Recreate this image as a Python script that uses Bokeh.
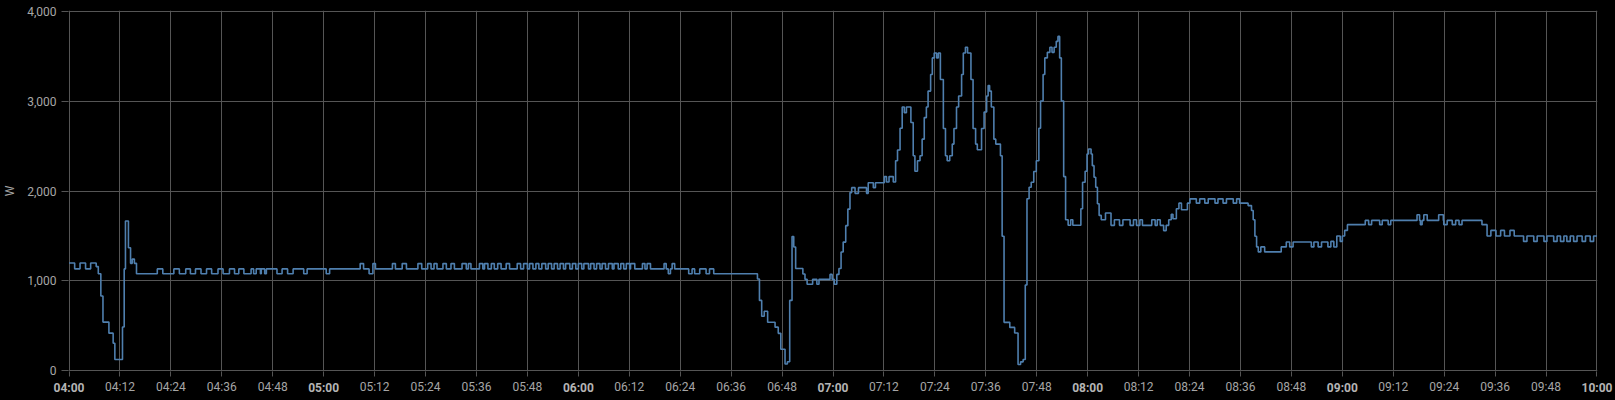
from bokeh.plotting import figure
from bokeh.models import Range1d, FixedTicker, NumeralTickFormatter, LinearAxis
from bokeh.embed import file_html
from bokeh.resources import INLINE

# change points: minutes after 04:00 and power (W) from that moment on
t_04 = [0, 1.33, 2.6, 3.9, 5.1, 6.4, 6.9, 7.5, 8.0, 9.4, 10.4, 10.8, 12.6, 13.0, 13.3, 14.0, 14.5, 14.9, 15.4, 15.9,
        20.8, 22.1, 24.7, 26.0, 27.5, 28.6, 29.8, 31.1, 32.4, 33.6, 35.1, 36.3, 37.8, 39.0, 40.0, 41.2,
        42.9, 43.5, 44.1, 45.1, 45.3, 46.1, 46.5, 49.0, 50.2, 51.5, 52.8, 55.3, 56.1]
w_04 = [1200, 1135, 1200, 1135, 1200, 1160, 1080, 833, 543, 420, 308, 127, 489, 1134, 1667, 1370, 1196, 1243, 1196, 1080,
        1134, 1080, 1134, 1080, 1134, 1080, 1134, 1080, 1134, 1080, 1134, 1080, 1134, 1080, 1134, 1080,
        1134, 1080, 1134, 1080, 1134, 1080, 1134, 1080, 1134, 1080, 1134, 1080, 1134]

t_05 = [60.6, 61.4, 68.6, 69.4, 70.7, 71.6, 72.2, 76.2, 76.9, 78.5, 79.5, 82.2, 83.1, 84.5, 85.3, 86.0, 86.7,
        88.1, 88.9, 90.0, 90.8, 92.6, 93.6, 94.1, 94.7, 96.7, 97.5, 97.9, 98.7, 99.5, 100.2, 101.0, 101.8,
        103.0, 103.8, 105.6, 106.4, 107.1, 108.0, 108.5, 109.3, 110.0, 110.7, 111.4, 112.3, 112.9, 113.7,
        114.3, 115.1, 115.7, 116.5, 117.0, 118.0, 118.6, 119.4]
w_05 = [1080, 1134, 1193, 1134, 1080, 1193, 1134, 1193, 1134, 1193, 1134, 1193, 1134, 1193, 1134, 1193, 1134,
        1193, 1134, 1193, 1134, 1193, 1134, 1193, 1134, 1193, 1134, 1193, 1134, 1193, 1134, 1193, 1134,
        1193, 1134, 1193, 1134, 1193, 1134, 1193, 1134, 1193, 1134, 1193, 1134, 1193, 1134,
        1193, 1134, 1193, 1134, 1193, 1134, 1193, 1134]

t_06 = [120.0, 120.8, 121.3, 122.4, 122.9, 123.7, 124.3, 125.1, 125.6, 126.4, 127.1, 128.0, 128.4, 129.4,
        130.0, 130.7, 131.3, 132.1, 132.3, 133.3, 135.1, 135.7, 136.2, 137.0, 140.2, 140.7, 141.2, 141.7,
        142.1, 142.7, 146.0, 146.8, 147.4, 148.6, 150.1, 150.9, 151.9,
        162.2, 162.67, 163.2, 163.8, 164.6, 166.35, 167.1, 167.7, 168.7, 169.25, 169.8, 170.35, 170.75,
        171.2, 172.9, 173.4, 173.9, 175.2, 176.2, 176.7, 179.3, 179.8]
w_06 = [1193, 1134, 1193, 1134, 1193, 1134, 1193, 1134, 1193, 1134, 1193, 1134, 1193, 1134,
        1193, 1134, 1193, 1134, 1193, 1134, 1193, 1134, 1193, 1134, 1193, 1134, 1080, 1134,
        1193, 1134, 1080, 1134, 1080, 1134, 1080, 1134, 1080,
        1022, 784, 608, 663, 542, 487, 418, 242, 77, 103, 784, 1494, 1377,
        1139, 1077, 1018, 963, 1018, 963, 1018, 1073, 1018]

t_07 = [180.3, 180.9, 181.4, 181.9, 182.4, 183.0, 183.5, 184.0, 184.4, 185.2, 186.0, 187.9, 188.3, 189.5, 190.0,
        192.1, 192.6, 193.2, 194.2, 194.75, 195.2, 195.8, 196.3, 196.8, 197.3, 198.35, 198.9, 199.3, 199.9,
        200.5, 201.0, 201.5, 202.0, 202.4, 203.0, 203.4, 203.85, 204.4, 204.8, 205.3, 206.0, 206.5, 206.9,
        207.5, 208.1, 208.5, 209.1, 209.6, 210.3, 210.7, 211.2, 211.7, 212.5, 213.0, 213.6, 214.0, 215.0,
        215.6, 216.2, 216.55, 216.9, 217.3, 217.9, 218.35, 219.45, 219.85, 220.3, 221.65, 222.8, 223.6,
        224.2, 224.8, 225.3, 225.7, 226.2, 226.7, 227.3, 227.9, 228.5, 228.9, 229.5, 229.9, 230.5, 231.1,
        231.6, 232.1, 232.6, 233.0, 233.4, 233.8, 234.35, 234.8, 235.4, 236.0, 236.5, 238.4, 238.8, 239.4,
        239.85]
w_07 = [963, 1073, 1139, 1322, 1432, 1615, 1799, 1982, 2037, 1974, 2037, 1974, 2092, 2037, 2092,
        2160, 2100, 2160, 2100, 2337, 2455, 2698, 2934, 2871, 2934, 2761, 2392, 2219, 2337,
        2392, 2576, 2816, 2934, 3110, 3295, 3479, 3534, 3479, 3534, 3239, 2694, 2392, 2337,
        2392, 2521, 2694, 2934, 3055, 3295, 3534, 3597, 3534, 3239, 2694, 2521, 2459, 2694,
        2878, 3055, 3173, 3110, 2934, 2576, 2521, 2392, 1497, 540, 484, 422, 72,
        101, 127, 956, 1914, 2042, 2098, 2216, 2337, 2698, 3000, 3295, 3479, 3541, 3597,
        3541, 3597, 3663, 3718, 3479, 3000, 2160, 1681, 1619, 1681, 1619, 1802, 2098, 2220,
        2412]

t_08 = [240.2, 240.8, 241.1, 241.5, 241.9, 242.3, 242.7, 243.2, 244.2, 245.5, 246.3, 247.5, 248.3, 250.0,
        250.8, 251.5, 252.3, 252.9, 255.1, 255.9, 256.4, 257.1, 257.9, 258.5, 259.1, 259.7, 260.1, 260.9,
        261.5, 262.1, 263.5, 264.1, 265.6, 266.4, 267.6, 268.4, 270.0, 270.7, 271.9, 272.7, 274.3, 275.1,
        275.8, 277.8, 278.6, 279.0, 279.4, 279.8, 280.2, 280.8, 281.7, 285.6, 286.8, 287.6, 288.4, 292.7,
        293.3, 294.3, 295.1, 296.6, 297.3, 298.0, 298.7, 299.5]
w_08 = [2467, 2412, 2282, 2153, 2042, 1858, 1729, 1681, 1755, 1618, 1681, 1618, 1681, 1618,
        1681, 1618, 1681, 1618, 1681, 1618, 1681, 1618, 1560, 1618, 1681, 1741, 1692, 1802,
        1865, 1791, 1865, 1913, 1865, 1913, 1865, 1913, 1865, 1913, 1865, 1913, 1865, 1913,
        1865, 1838, 1783, 1681, 1497, 1379, 1323, 1379, 1323, 1379, 1434, 1379, 1434, 1379,
        1434, 1379, 1434, 1379, 1440, 1378, 1500, 1440]

t_09 = [300.0, 300.55, 301.2, 305.4, 306.2, 306.9, 308.8, 309.4, 310.8, 311.4, 317.6, 318.2, 318.4, 318.8,
        319.2, 320.0, 322.7, 323.8, 323.9, 324.7, 325.9, 326.7, 327.5, 328.2, 332.9, 334.1, 335.0, 336.2,
        337.3, 338.2, 339.5, 340.5, 342.7, 343.5, 345.1, 345.9, 347.5, 348.2, 349.8, 350.6, 351.4, 352.2,
        352.9, 353.7, 354.5, 355.3, 356.5, 357.3, 358.4, 359.2, 360.0]
w_09 = [1500, 1562, 1626, 1673, 1626, 1673, 1626, 1673, 1626, 1673, 1736, 1673, 1626, 1673,
        1736, 1673, 1736, 1673, 1626, 1673, 1626, 1673, 1626, 1673, 1626, 1500, 1562, 1500,
        1562, 1500, 1562, 1500, 1440, 1500, 1440, 1500, 1440, 1500, 1440, 1500, 1440, 1500,
        1440, 1500, 1440, 1500, 1440, 1500, 1440, 1500, 1500]

x_ticks = list(range(0, 361, 12))
x_tick_labels = ["04:00", "04:12", "04:24", "04:36", "04:48", "05:00", "05:12", "05:24", "05:36", "05:48",
                 "06:00", "06:12", "06:24", "06:36", "06:48", "07:00", "07:12", "07:24", "07:36", "07:48",
                 "08:00", "08:12", "08:24", "08:36", "08:48", "09:00", "09:12", "09:24", "09:36", "09:48",
                 "10:00"]
y_ticks = [0, 1000, 2000, 3000, 4000]
y_label = "W"

minutes = t_04 + t_05 + t_06 + t_07 + t_08 + t_09
watts = w_04 + w_05 + w_06 + w_07 + w_08 + w_09

FONT = "Roboto"
LABEL_COLOR = "#a6a6a6"
BOLD_COLOR = "#b4b4b4"
GRID_COLOR = "#555555"

p = figure(width=1615, height=398, output_backend="svg", toolbar_location=None,
           x_range=Range1d(-0.12, 360.12), y_range=Range1d(-6, 4006),
           min_border_left=65, min_border_right=18, min_border_top=10, min_border_bottom=27,
           background_fill_color="black", border_fill_color="black")
p.outline_line_color = None

p.step(minutes, watts, mode="after", line_color="#4f7fae", line_width=1.6)

hour_labels = {t: (lab if t % 60 == 0 else "") for t, lab in zip(x_ticks, x_tick_labels)}
minute_labels = {t: ("" if t % 60 == 0 else lab) for t, lab in zip(x_ticks, x_tick_labels)}

# x axis nearest the frame: all tick marks, bold hour labels
xa = p.xaxis[0]
xa.ticker = FixedTicker(ticks=x_ticks)
xa.major_label_overrides = hour_labels
xa.axis_line_color = None
xa.major_tick_line_color = GRID_COLOR
xa.major_tick_out = 5
xa.major_tick_in = 0
xa.minor_tick_line_color = None
xa.major_label_standoff = 4
xa.major_label_text_font = FONT
xa.major_label_text_font_size = "12px"
xa.major_label_text_font_style = "bold"
xa.major_label_text_color = BOLD_COLOR

# second x axis: normal-weight labels, pulled up to the same row
xb = LinearAxis(ticker=FixedTicker(ticks=x_ticks), major_label_overrides=minute_labels)
xb.axis_line_color = None
xb.major_tick_line_color = None
xb.major_tick_out = 0
xb.major_tick_in = 0
xb.minor_tick_line_color = None
xb.major_label_standoff = -18
xb.major_label_text_font = FONT
xb.major_label_text_font_size = "12px"
xb.major_label_text_color = LABEL_COLOR
p.add_layout(xb, "below")

# y axis
ya = p.yaxis[0]
ya.ticker = FixedTicker(ticks=y_ticks)
ya.formatter = NumeralTickFormatter(format="0,0")
ya.axis_line_color = None
ya.major_tick_line_color = GRID_COLOR
ya.major_tick_out = 7
ya.major_tick_in = 0
ya.minor_tick_line_color = None
ya.major_label_standoff = 5
ya.major_label_text_font = FONT
ya.major_label_text_font_size = "12px"
ya.major_label_text_color = LABEL_COLOR
ya.axis_label = y_label
ya.axis_label_text_font = FONT
ya.axis_label_text_font_size = "12px"
ya.axis_label_text_font_style = "normal"
ya.axis_label_text_color = LABEL_COLOR
ya.axis_label_standoff = 7

p.xgrid.ticker = FixedTicker(ticks=x_ticks)
p.xgrid.grid_line_color = GRID_COLOR
p.ygrid.grid_line_color = GRID_COLOR

template = """{% block preamble %}<style>html, body { margin: 0; padding: 0; background: #000; overflow: hidden; }</style>{% endblock %}"""
open("out.html", "w").write(file_html(p, INLINE, "power", template=template))
